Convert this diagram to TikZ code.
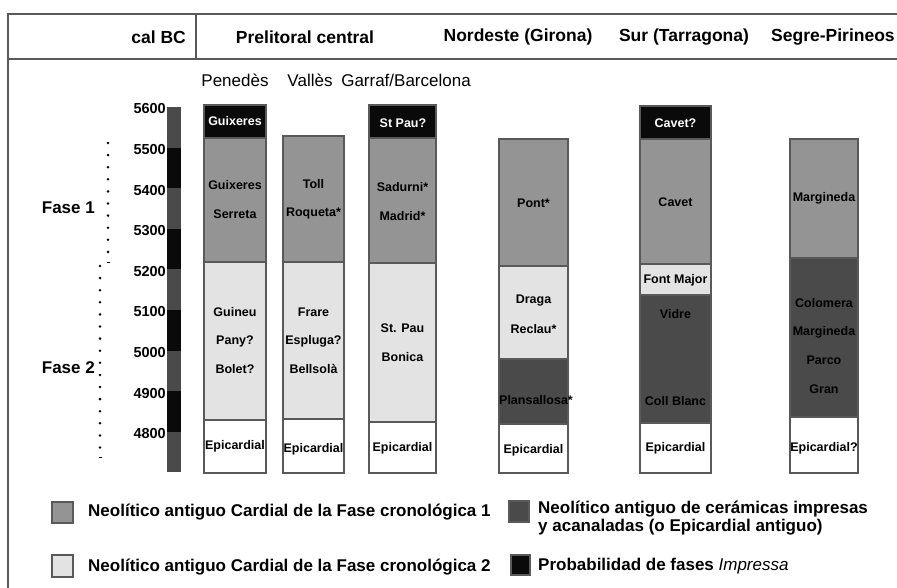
\documentclass[tikz,border=0pt]{standalone}
\usepackage{fontspec}
\setmainfont{Liberation Sans}
\definecolor{fone}{gray}{0.58}
\definecolor{ftwo}{gray}{0.89}
\definecolor{fimp}{gray}{0.29}
\definecolor{fblk}{gray}{0.04}
\definecolor{fline}{gray}{0.35}

\begin{document}
\begin{tikzpicture}[x=1pt,y=-1pt]
    \tikzstyle{every node}=[inner sep=0, font=\bfseries\fontsize{12.5}{14}\selectfont]
    \tikzstyle{seg}=[draw=fline, line width=1.2pt]
    \tikzstyle{head}=[font=\bfseries\fontsize{17.5}{20}\selectfont]
    \tikzstyle{sub}=[font=\fontsize{17}{20}\selectfont]
    \tikzstyle{tick}=[anchor=east, font=\bfseries\fontsize{14.5}{16}\selectfont]
    \tikzstyle{fase}=[anchor=east, font=\bfseries\fontsize{17}{20}\selectfont]
    \tikzstyle{leg}=[anchor=west, font=\bfseries\fontsize{17}{20}\selectfont]
    \useasboundingbox (0,0) rectangle (897,588);
    % Frame and header
    \draw[fline, line width=1.6pt] (897,14) -- (8,14) -- (8,588);
    \draw[fline, line width=1.6pt] (8,59) -- (897,59);
    \draw[fline, line width=1.2pt] (196,14) -- (196,59);
    \node[head, anchor=east] (CAL) at (186,37) {cal BC};
    \node[head] (PRE) at (305,37) {Prelitoral central};
    \node[head] (NOR) at (518,37) {Nordeste (Girona)};
    \node[head] (SUR) at (684,37) {Sur (Tarragona)};
    \node[head, anchor=west] (SEG) at (771,37) {Segre-Pirineos};
    \node[sub] (PENH) at (235,80) {Penedès};
    \node[sub] (VALH) at (310,80) {Vallès};
    \node[sub] (GARH) at (406,80) {Garraf/Barcelona};
    % Time scale
    \foreach \k in {0,2,4,6,8}
        \fill[fimp] (167,{107+40.6*\k}) rectangle (181,{147.6+40.6*\k});
    \foreach \k in {1,3,5,7}
        \fill[fblk] (167,{107+40.6*\k}) rectangle (181,{147.6+40.6*\k});
    \foreach \v [count=\i from 0] in {5600,5500,...,4800}
        \node[tick] (T\v) at (166,{109+40.6*\i}) {\v};
    % Phases
    \foreach \i in {0,...,9}
        \fill (108,{143+12.1*\i}) circle (1.4);
    \draw[line width=1pt] (106.5,262) -- (109.5,262);
    \foreach \i in {0,...,15}
        \fill (100,{266+12.1*\i}) circle (1.4);
    \draw[line width=1pt] (98.5,457) -- (101.5,457);
    \node[fase] (F1) at (95,208) {Fase 1};
    \node[fase] (F2) at (95,368) {Fase 2};
    % Penedes
    \draw[seg, fill=fblk] (204,105) rectangle (266,138);
    \draw[seg, fill=fone] (204,138) rectangle (266,262);
    \draw[seg, fill=ftwo] (204,262) rectangle (266,420);
    \draw[seg, fill=white] (204,420) rectangle (266,473);
    \node[text=white] (PEN0) at (235,121) {Guixeres};
    \node (PEN1) at (235,185) {Guixeres};
    \node (PEN2) at (235,214) {Serreta};
    \node (PEN3) at (235,312) {Guineu};
    \node (PEN4) at (235,341) {Pany?};
    \node (PEN5) at (235,369) {Bolet?};
    \node (PEN6) at (235,446) {Epicardial};
    % Valles
    \draw[seg, fill=fone] (283,136) rectangle (344,262);
    \draw[seg, fill=ftwo] (283,262) rectangle (344,419);
    \draw[seg, fill=white] (283,419) rectangle (344,473);
    \node (VAL1) at (313.5,184) {Toll};
    \node (VAL2) at (313.5,213) {Roqueta*};
    \node (VAL3) at (313.5,312) {Frare};
    \node (VAL4) at (313.5,341) {Espluga?};
    \node (VAL5) at (313.5,369) {Bellsolà};
    \node (VAL6) at (313.5,449) {Epicardial};
    % Garraf/Barcelona
    \draw[seg, fill=fblk] (369,105) rectangle (436,138);
    \draw[seg, fill=fone] (369,138) rectangle (436,263);
    \draw[seg, fill=ftwo] (369,263) rectangle (436,422);
    \draw[seg, fill=white] (369,422) rectangle (436,473);
    \node[text=white] (GAR0) at (403,123) {St Pau?};
    \node (GAR1) at (402.5,187) {Sadurni*};
    \node (GAR2) at (402.5,216) {Madrid*};
    \node (GAR3) at (402.5,328) {St. Pau};
    \node (GAR4) at (402.5,357) {Bonica};
    \node (GAR5) at (402.5,448) {Epicardial};
    % Nordeste
    \draw[seg, fill=fone] (499,139) rectangle (568,266);
    \draw[seg, fill=ftwo] (499,266) rectangle (568,359);
    \draw[seg, fill=fimp] (499,359) rectangle (568,424);
    \draw[seg, fill=white] (499,424) rectangle (568,473);
    \node (NOR1) at (533.5,203) {Pont*};
    \node (NOR2) at (533.5,301) {Draga};
    \node (NOR3) at (533.5,329) {Reclau*};
    \node (NOR4) at (536,400) {Plansallosa*};
    \node (NOR5) at (533.5,450) {Epicardial};
    % Sur
    \draw[seg, fill=fblk] (640,106) rectangle (711,139);
    \draw[seg, fill=fone] (640,139) rectangle (711,264);
    \draw[seg, fill=ftwo] (640,264) rectangle (711,295);
    \draw[seg, fill=fimp] (640,295) rectangle (711,423);
    \draw[seg, fill=white] (640,423) rectangle (711,473);
    \node[text=white] (SUR0) at (675.5,123) {Cavet?};
    \node (SUR1) at (675.5,202) {Cavet};
    \node (SUR2) at (675.5,280) {Font Major};
    \node (SUR3) at (675.5,314) {Vidre};
    \node (SUR4) at (675.5,401) {Coll Blanc};
    \node (SUR5) at (675.5,448) {Epicardial};
    % Segre-Pirineos
    \draw[seg, fill=fone] (790,139) rectangle (858,258);
    \draw[seg, fill=fimp] (790,258) rectangle (858,417);
    \draw[seg, fill=white] (790,417) rectangle (858,473);
    \node (SEG1) at (824,198) {Margineda};
    \node (SEG2) at (824,303) {Colomera};
    \node (SEG3) at (824,332) {Margineda};
    \node (SEG4) at (824,360) {Parco};
    \node (SEG5) at (824,389) {Gran};
    \node (SEG6) at (824,448) {Epicardial?};
    % Legend
    \draw[seg, fill=fone] (52,502) rectangle (73,523);
    \draw[seg, fill=fimp] (509,501) rectangle (529,522);
    \draw[seg, fill=ftwo] (52,555) rectangle (73,577);
    \draw[seg, fill=fblk] (511,555) rectangle (530,575);
    \node[leg] (L1) at (88,512) {Neolítico antiguo Cardial de la Fase cronológica 1};
    \node[leg] (L2A) at (538,509) {Neolítico antiguo de cerámicas impresas};
    \node[leg] (L2B) at (538,527) {y acanaladas (o Epicardial antiguo)};
    \node[leg] (L3) at (88,567) {Neolítico antiguo Cardial de la Fase cronológica 2};
    \node[leg] (L4) at (538,566) {Probabilidad de fases {\mdseries\itshape Impressa}};
\end{tikzpicture}
\end{document}
